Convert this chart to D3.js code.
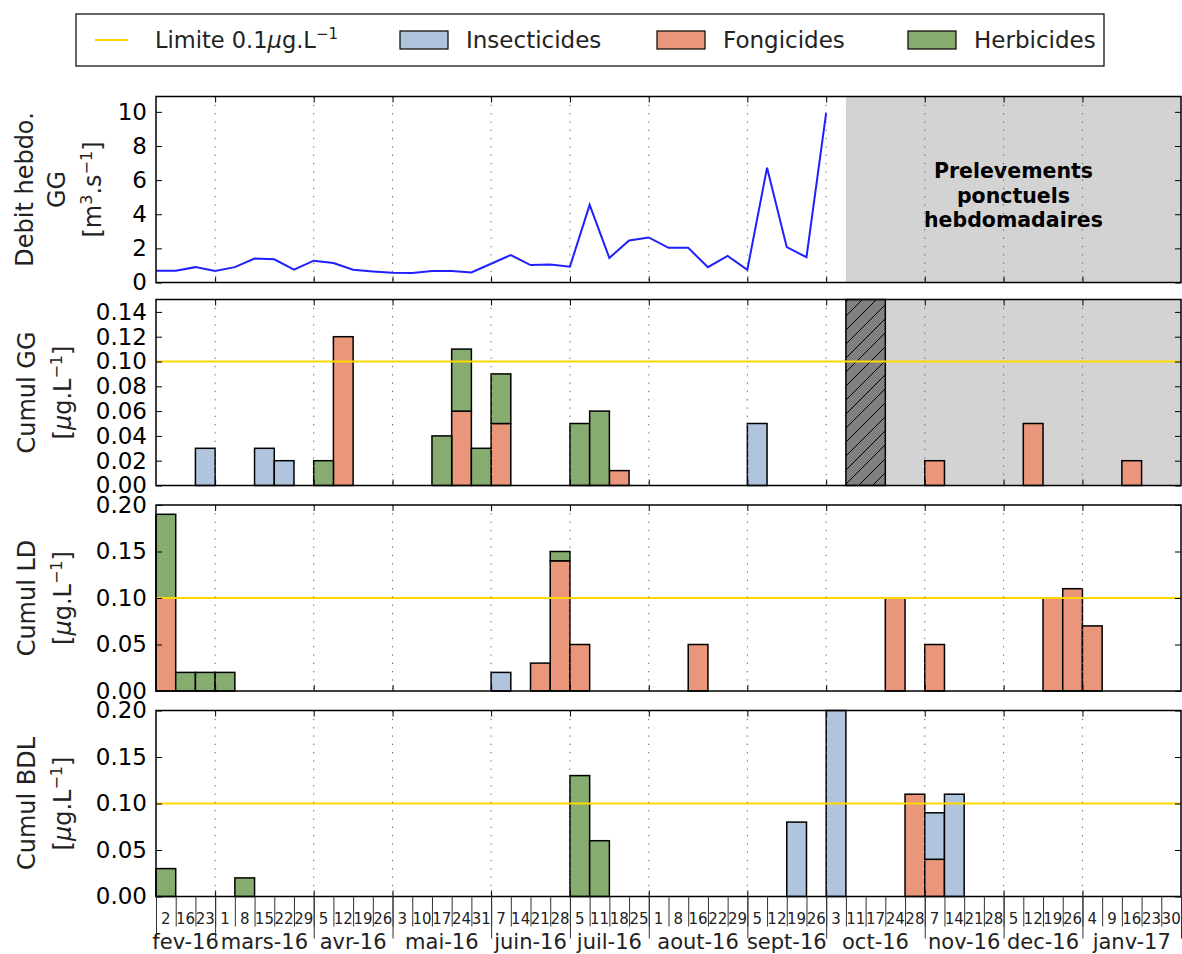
<!DOCTYPE html>
<html>
<head>
<meta charset="utf-8">
<script src="https://cdn.jsdelivr.net/npm/d3@7"></script>
<style>
body { margin: 0; background: #fff; }
svg { font-family: "DejaVu Sans", sans-serif; }
</style>
</head>
<body>
<svg id="chart" width="1182" height="954"></svg>
<script>
// weeks (day of sampling) grouped by month
var months = ["fev-16", "mars-16", "avr-16", "mai-16", "juin-16", "juil-16", "aout-16", "sept-16", "oct-16", "nov-16", "dec-16", "janv-17"];
var days = [[2, 16, 23], [1, 8, 15, 22, 29], [5, 12, 19, 26], [3, 10, 17, 24, 31], [7, 14, 21, 28], [5, 11, 18, 25],
  [1, 8, 16, 22, 29], [5, 12, 19, 26], [3, 11, 17, 24, 28], [7, 14, 21, 28], [5, 12, 19, 26], [4, 9, 16, 23, 30]];

// weekly flow GG (m3/s)
var debit = [0.69, 0.69, 0.9, 0.67, 0.9, 1.4, 1.36, 0.75, 1.28, 1.14, 0.75, 0.65, 0.57, 0.55, 0.67, 0.67, 0.59, 1.1,
  1.61, 1.02, 1.06, 0.93, 4.55, 1.44, 2.46, 2.64, 2.03, 2.03, 0.9, 1.56, 0.75, 6.73, 2.07, 1.48, 9.96];

// cumul GG (ug/L), one value per week
var ggInsect = [0,0,.03, 0,0,.03,.02,0, 0,0,0,0, 0,0,0,0,0, 0,0,0,0, 0,0,0,0, 0,0,0,0,0, .05,0,0,0, 0,0,0,0,0, 0,0,0,0, 0,0,0,0, 0,0,0,0,0];
var ggFong   = [0,0,0, 0,0,0,0,0, 0,.12,0,0, 0,0,0,.06,0, .05,0,0,0, 0,0,.012,0, 0,0,0,0,0, 0,0,0,0, 0,0,0,0,0, .02,0,0,0, 0,.05,0,0, 0,0,.02,0,0];
var ggHerb   = [0,0,0, 0,0,0,0,0, .02,0,0,0, 0,0,.04,.05,.03, .04,0,0,0, .05,.06,0,0, 0,0,0,0,0, 0,0,0,0, 0,0,0,0,0, 0,0,0,0, 0,0,0,0, 0,0,0,0,0];

// cumul LD
var ldInsect = [0,0,0, 0,0,0,0,0, 0,0,0,0, 0,0,0,0,0, .02,0,0,0, 0,0,0,0, 0,0,0,0,0, 0,0,0,0, 0,0,0,0,0, 0,0,0,0, 0,0,0,0, 0,0,0,0,0];
var ldFong   = [.10,0,0, 0,0,0,0,0, 0,0,0,0, 0,0,0,0,0, 0,0,.03,.14, .05,0,0,0, 0,0,.05,0,0, 0,0,0,0, 0,0,0,.10,0, .05,0,0,0, 0,0,.10,.11, .07,0,0,0,0];
var ldHerb   = [.09,.02,.02, .02,0,0,0,0, 0,0,0,0, 0,0,0,0,0, 0,0,0,.01, 0,0,0,0, 0,0,0,0,0, 0,0,0,0, 0,0,0,0,0, 0,0,0,0, 0,0,0,0, 0,0,0,0,0];

// cumul BDL
var bdlInsect = [0,0,0, 0,0,0,0,0, 0,0,0,0, 0,0,0,0,0, 0,0,0,0, 0,0,0,0, 0,0,0,0,0, 0,0,.08,0, .20,0,0,0,0, .05,.11,0,0, 0,0,0,0, 0,0,0,0,0];
var bdlFong   = [0,0,0, 0,0,0,0,0, 0,0,0,0, 0,0,0,0,0, 0,0,0,0, 0,0,0,0, 0,0,0,0,0, 0,0,0,0, 0,0,0,0,.11, .04,0,0,0, 0,0,0,0, 0,0,0,0,0];
var bdlHerb   = [.03,0,0, 0,.02,0,0,0, 0,0,0,0, 0,0,0,0,0, 0,0,0,0, .13,.06,0,0, 0,0,0,0,0, 0,0,0,0, 0,0,0,0,0, 0,0,0,0, 0,0,0,0, 0,0,0,0,0];

var limite = 0.1;
var ponctuelStart = 35;   // oct 11 : start of spot sampling
var hatchEnd = 37;        // oct 11 - oct 17 missing for GG

var colors = {insect: "#b0c4de", fong: "#e9967a", herb: "#86ad6f"};

var left = 156, right = 1181, panelH = 186;
var tops = [96.5, 299.5, 505, 710.5];

var svg = d3.select("#chart");

var weekDays = [];
var monthStart = [];
days.forEach(function(d) {
  monthStart.push(weekDays.length);
  d.forEach(function(v) { weekDays.push(v); });
});
var nWeeks = weekDays.length;
var gridIdx = monthStart.slice(1);

var x = d3.scaleLinear().domain([0, nWeeks]).range([left, right]);

// hatch pattern
var defs = svg.append("defs");
defs.append("pattern")
  .attr("id", "hatch")
  .attr("patternUnits", "userSpaceOnUse")
  .attr("width", 14).attr("height", 14)
  .append("path")
  .attr("d", "M0,14 L14,0 M-4,4 L4,-4 M10,18 L18,10")
  .attr("stroke", "#000").attr("stroke-width", 1);

function makePanel(top, yMax, ticks, fmt) {
  var y = d3.scaleLinear().domain([0, yMax]).range([top + panelH, top]);
  var g = svg.append("g");
  var bg = g.append("g");
  var content = g.append("g");
  var over = g.append("g");
  return {g: g, bg: bg, content: content, over: over, y: y, top: top, ticks: ticks, fmt: fmt};
}

function finishPanel(p, labelLines) {
  var g = p.over;
  // dotted grid at month boundaries
  g.selectAll(".grid").data(gridIdx).enter().append("line")
    .attr("x1", function(d) { return x(d); }).attr("x2", function(d) { return x(d); })
    .attr("y1", p.top).attr("y2", p.top + panelH)
    .attr("stroke", "#666").attr("stroke-width", 1).attr("stroke-dasharray", "1.3,7");

  var axL = g.append("g").attr("transform", "translate(" + left + ",0)")
    .call(d3.axisLeft(p.y).tickValues(p.ticks).tickFormat(d3.format(p.fmt)).tickSizeInner(-6).tickSizeOuter(0).tickPadding(9));
  axL.select(".domain").remove();
  axL.selectAll("text").attr("font-size", 23).attr("font-family", "DejaVu Sans").attr("fill", "#000");
  axL.attr("font-family", null).attr("font-size", null);

  var axR = g.append("g").attr("transform", "translate(" + right + ",0)")
    .call(d3.axisRight(p.y).tickValues(p.ticks).tickFormat("").tickSizeInner(-6).tickSizeOuter(0));
  axR.select(".domain").remove();

  var axT = g.append("g").attr("transform", "translate(0," + p.top + ")")
    .call(d3.axisTop(x).tickValues(gridIdx).tickFormat("").tickSizeInner(-6).tickSizeOuter(0));
  axT.select(".domain").remove();
  var axB = g.append("g").attr("transform", "translate(0," + (p.top + panelH) + ")")
    .call(d3.axisBottom(x).tickValues(gridIdx).tickFormat("").tickSizeInner(-6).tickSizeOuter(0));
  axB.select(".domain").remove();

  g.append("rect")
    .attr("x", left).attr("y", p.top)
    .attr("width", right - left).attr("height", panelH)
    .attr("fill", "none").attr("stroke", "#000").attr("stroke-width", 1.5);

  // y label (rotated, several lines)
  var cy = p.top + panelH / 2;
  labelLines.forEach(function(line) {
    var t = svg.append("text")
      .attr("transform", "translate(" + line.x + "," + cy + ") rotate(-90)")
      .attr("text-anchor", "middle").attr("dy", "0.35em")
      .attr("font-size", 24).attr("fill", "#222");
    line.parts.forEach(function(part) {
      var ts = t.append("tspan").text(part.t);
      if (part.sup) ts.attr("baseline-shift", "super").attr("font-size", 16);
      if (part.it) ts.attr("font-style", "italic");
    });
  });
}

function drawBars(p, insect, fong, herb) {
  var rows = weekDays.map(function(d, i) { return {i: i, insect: insect[i], fong: fong[i], herb: herb[i]}; });
  var series = d3.stack().keys(["fong", "insect", "herb"])(rows);
  series.forEach(function(s) {
    p.content.selectAll(null)
      .data(s.filter(function(d) { return d[1] - d[0] > 0; }))
      .enter().append("rect")
      .attr("x", function(d) { return x(d.data.i); })
      .attr("width", x(1) - x(0))
      .attr("y", function(d) { return p.y(d[1]); })
      .attr("height", function(d) { return p.y(d[0]) - p.y(d[1]); })
      .attr("fill", colors[s.key])
      .attr("stroke", "#000").attr("stroke-width", 1.5);
  });
}

function drawLimit(p) {
  p.over.append("line")
    .attr("x1", left).attr("x2", right)
    .attr("y1", p.y(limite)).attr("y2", p.y(limite))
    .attr("stroke", "#ffd700").attr("stroke-width", 2);
}

var unitUg = [{t: "["}, {t: "\u03bc", it: true}, {t: "g.L"}, {t: "\u22121", sup: true}, {t: "]"}];

// Panel 1 : debit
var p1 = makePanel(tops[0], 10.9, [0, 2, 4, 6, 8, 10], "d");
p1.bg.append("rect")
  .attr("x", x(ponctuelStart)).attr("y", p1.top)
  .attr("width", right - x(ponctuelStart)).attr("height", panelH)
  .attr("fill", "#d3d3d3");
var ptxt = ["Prelevements", "ponctuels", "hebdomadaires"];
ptxt.forEach(function(t, i) {
  p1.content.append("text")
    .attr("x", (x(ponctuelStart) + right) / 2)
    .attr("y", 171 + i * 24.5)
    .attr("dy", "0.35em")
    .attr("text-anchor", "middle")
    .attr("font-weight", "bold").attr("font-size", 20.5)
    .text(t);
});
var line = d3.line()
  .x(function(d, i) { return x(i); })
  .y(function(d) { return p1.y(d); });
p1.content.append("path")
  .attr("d", line(debit))
  .attr("fill", "none").attr("stroke", "#1f1fff").attr("stroke-width", 2);
finishPanel(p1, [
  {x: 25, parts: [{t: "Debit hebdo."}]},
  {x: 57, parts: [{t: "GG"}]},
  {x: 93, parts: [{t: "[m"}, {t: "3", sup: true}, {t: ".s"}, {t: "\u22121", sup: true}, {t: "]"}]}
]);

// Panel 2 : cumul GG
var p2 = makePanel(tops[1], 0.15, d3.range(0, 0.141, 0.02), ".2f");
p2.bg.append("rect")
  .attr("x", x(hatchEnd)).attr("y", p2.top)
  .attr("width", right - x(hatchEnd)).attr("height", panelH)
  .attr("fill", "#d3d3d3");
drawBars(p2, ggInsect, ggFong, ggHerb);
p2.content.append("rect")
  .attr("x", x(ponctuelStart)).attr("y", p2.top)
  .attr("width", x(hatchEnd) - x(ponctuelStart)).attr("height", panelH)
  .attr("fill", "#808080").attr("stroke", "#000").attr("stroke-width", 1.5);
p2.content.append("rect")
  .attr("x", x(ponctuelStart)).attr("y", p2.top)
  .attr("width", x(hatchEnd) - x(ponctuelStart)).attr("height", panelH)
  .attr("fill", "url(#hatch)");
drawLimit(p2);
finishPanel(p2, [{x: 27, parts: [{t: "Cumul GG"}]}, {x: 63, parts: unitUg}]);

// Panel 3 : cumul LD
var p3 = makePanel(tops[2], 0.2, [0, 0.05, 0.10, 0.15, 0.20], ".2f");
drawBars(p3, ldInsect, ldFong, ldHerb);
drawLimit(p3);
finishPanel(p3, [{x: 27, parts: [{t: "Cumul LD"}]}, {x: 63, parts: unitUg}]);

// Panel 4 : cumul BDL
var p4 = makePanel(tops[3], 0.2, [0, 0.05, 0.10, 0.15, 0.20], ".2f");
drawBars(p4, bdlInsect, bdlFong, bdlHerb);
drawLimit(p4);
finishPanel(p4, [{x: 27, parts: [{t: "Cumul BDL"}]}, {x: 63, parts: unitUg}]);

// x axis : weeks and months
var bottom = tops[3] + panelH;
var axWeeks = svg.append("g").attr("transform", "translate(0," + bottom + ")")
  .call(d3.axisBottom(x).tickValues(d3.range(0, nWeeks + 1)).tickFormat("").tickSizeInner(30).tickSizeOuter(0));
axWeeks.select(".domain").remove();
axWeeks.selectAll("line").attr("stroke", "#333");
var axMonths = svg.append("g").attr("transform", "translate(0," + bottom + ")")
  .call(d3.axisBottom(x).tickValues(monthStart.concat([nWeeks])).tickFormat("").tickSizeInner(42).tickSizeOuter(0));
axMonths.select(".domain").remove();
axMonths.selectAll("line").attr("stroke", "#333");

svg.append("g").selectAll("text").data(weekDays).enter().append("text")
  .attr("x", function(d, i) { return x(i + 0.5); })
  .attr("y", bottom + 22)
  .attr("dy", "0.35em")
  .attr("text-anchor", "middle")
  .attr("font-size", 15).attr("fill", "#222")
  .text(function(d) { return d; });

svg.append("g").selectAll("text").data(months).enter().append("text")
  .attr("x", function(d, i) { return x((monthStart[i] + monthStart[i] + days[i].length) / 2); })
  .attr("y", bottom + 45)
  .attr("dy", "0.35em")
  .attr("text-anchor", "middle")
  .attr("font-size", 21).attr("fill", "#222")
  .text(function(d) { return d; });

// legend
var lg = svg.append("g");
lg.append("rect").attr("x", 76).attr("y", 14).attr("width", 1028).attr("height", 52)
  .attr("fill", "#fff").attr("stroke", "#000").attr("stroke-width", 1.2);
lg.append("line").attr("x1", 95).attr("x2", 128).attr("y1", 40).attr("y2", 40)
  .attr("stroke", "#ffd700").attr("stroke-width", 2);
var lt = lg.append("text").attr("x", 155).attr("y", 40).attr("dy", "0.35em").attr("font-size", 22.5).attr("fill", "#222");
lt.append("tspan").text("Limite 0.1");
lt.append("tspan").attr("font-style", "italic").text("\u03bc");
lt.append("tspan").text("g.L");
lt.append("tspan").attr("baseline-shift", "super").attr("font-size", 15).text("\u22121");
var legendItems = [
  {key: "insect", label: "Insecticides", x: 400},
  {key: "fong", label: "Fongicides", x: 657},
  {key: "herb", label: "Herbicides", x: 908}
];
legendItems.forEach(function(it) {
  lg.append("rect").attr("x", it.x).attr("y", 31).attr("width", 48).attr("height", 18)
    .attr("fill", colors[it.key]).attr("stroke", "#000").attr("stroke-width", 1.2);
  lg.append("text").attr("x", it.x + 66).attr("y", 40).attr("dy", "0.35em")
    .attr("font-size", 23).attr("fill", "#222").text(it.label);
});
</script>
</body>
</html>
